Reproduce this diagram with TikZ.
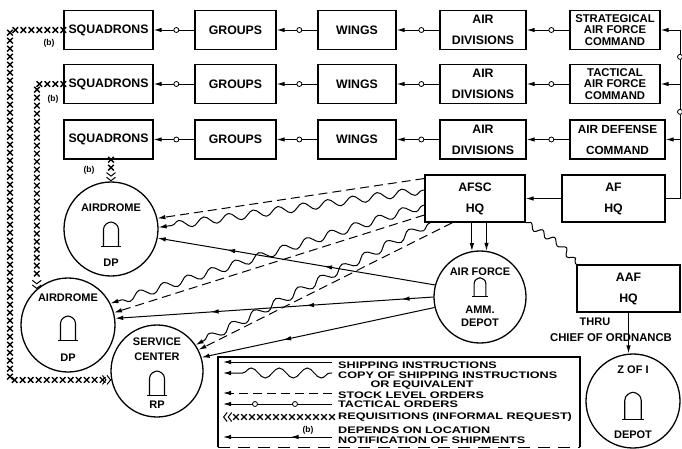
\documentclass[tikz,border=0pt]{standalone}
\usepackage{fontspec}
\setmainfont{Liberation Sans}
\newfontfamily\legfont[FakeStretch=1.33]{Liberation Sans}
\usepackage{tikz}
\usetikzlibrary{positioning,calc,arrows.meta,decorations.markings,decorations.pathmorphing}

\tikzset{
  unitbox/.style={draw, line width=1.3pt, minimum height=39pt, inner sep=0pt, align=center, font=\fontsize{12.3}{21}\selectfont\bfseries},
  cmdbox/.style={unitbox, font=\fontsize{11.3}{11.2}\selectfont\bfseries},
  station/.style={draw, circle, line width=1.3pt, minimum size=94pt, inner sep=0pt},
  stxt/.style={inner sep=0pt, font=\fontsize{11}{11}\selectfont\bfseries},
  legtxt/.style={inner sep=0pt, anchor=west, font=\legfont\fontsize{9.5}{9.5}\selectfont\bfseries},
  btxt/.style={inner sep=0pt, font=\fontsize{8.5}{9}\selectfont\bfseries},
  shiptip/.tip={Latex[length=8pt,width=4.5pt]},
  reqtip/.tip={Straight Barb[length=3.5pt,width=9pt,line width=1pt] Straight Barb[length=3.5pt,width=9pt,line width=1pt]},
  ship/.style={line width=1pt, -{shiptip}},
  ringat/.style={postaction={decorate, decoration={markings, mark=at position #1 with {\draw[line width=0.8pt, fill=white] (0,0) circle (2.5pt);}}}},
  midarrow/.style={postaction={decorate, decoration={markings, mark=at position #1 with {\arrow{shiptip}}}}},
  tacline/.style={ship, ringat=18pt},
  stock/.style={ship, dash pattern=on 9pt off 5pt},
  copy/.style={ship, decorate, decoration={snake, amplitude=4pt, segment length=25pt, pre length=2pt, post length=8pt}},
  req/.style={decorate, decoration={markings,
      mark=between positions 0 and -8pt step 8pt with {\draw[line width=1.3pt] (-2.8pt,-2.8pt) -- (2.8pt,2.8pt) (-2.8pt,2.8pt) -- (2.8pt,-2.8pt);},
      mark=at position 1 with {\arrow[line width=1pt]{reqtip}}}},
  bldg/.pic={
    \draw[line width=1.1pt] (-7.5,12) -- (-7.5,-5) .. controls (-7.5,-10) and (-3,-12) .. (0,-12.5) .. controls (3,-12) and (7.5,-10) .. (7.5,-5) -- (7.5,12);
    \draw[line width=1.1pt] (-10,12) -- (10,12);
  }
}

\begin{document}
\begin{tikzpicture}[x=1pt, y=-1pt]
  \useasboundingbox (0,0) rectangle (682,448);

  % command chain
  \foreach \r/\y in {1/30,2/84,3/139.5} {
    \node[unitbox, minimum width=89pt] (sq\r) at (108.5,\y) {SQUADRONS};
    \node[unitbox, minimum width=81pt] (gr\r) at (235.5,\y) {GROUPS};
    \node[unitbox, minimum width=78pt] (wi\r) at (357,\y) {WINGS};
    \node[unitbox, minimum width=86pt] (dv\r) at (483,\y) {AIR\\DIVISIONS};
    \draw[tacline] (gr\r.west) -- (sq\r.east);
    \draw[tacline] (wi\r.west) -- (gr\r.east);
    \draw[tacline] (dv\r.west) -- (wi\r.east);
  }
  \node[cmdbox, minimum width=90pt] (sacmd) at (615,30) {STRATEGICAL\\AIR FORCE\\COMMAND};
  \node[cmdbox, minimum width=90pt] (tacmd) at (615,84) {TACTICAL\\AIR FORCE\\COMMAND};
  \node[unitbox, minimum width=95pt, font=\fontsize{11.8}{21}\selectfont\bfseries] (adcmd) at (617.5,139.5) {AIR DEFENSE\\COMMAND};
  \foreach \c/\r in {sacmd/1,tacmd/2,adcmd/3}
    \draw[tacline] (\c.west) -- (dv\r.east);

  % headquarters
  \node[unitbox, minimum width=100pt, minimum height=47pt] (afsc) at (475,198.5) {AFSC\\HQ};
  \node[unitbox, minimum width=103pt, minimum height=47pt] (afhq) at (613.5,198.5) {AF\\HQ};
  \node[unitbox, minimum width=103pt, minimum height=47pt] (aafhq) at (628.5,288.5) {AAF\\HQ};
  \coordinate (bus) at (680,198.5);
  \draw[line width=1pt, ringat=101pt, ringat=156pt] (afhq.east) -- (bus) -- (bus |- sacmd.east);
  \foreach \c in {sacmd,tacmd,adcmd}
    \draw[ship] (bus |- \c.east) -- (\c.east);
  \draw[ship] (afhq.west) -- (afsc.east);

  % stations
  \node[station] (ad1) at (111,229) {};
  \node[station] (ad2) at (68,325) {};
  \node[station, minimum size=92pt] (sc) at (157,371) {};
  \node[station, minimum size=92pt] (afd) at (480,297) {};
  \node[station] (zoi) at (633,401) {};

  \node[stxt] (ad1a) at ([yshift=21pt]ad1.center) {AIRDROME};
  \node[stxt] (ad1b) at ([yshift=-34pt]ad1.center) {DP};
  \pic at ([yshift=-5.5pt]ad1.center) {bldg};
  \node[stxt] (ad2a) at ([yshift=27pt]ad2.center) {AIRDROME};
  \node[stxt] (ad2b) at ([yshift=-33pt]ad2.center) {DP};
  \pic at ([yshift=-3.5pt]ad2.center) {bldg};
  \node[stxt] (sca) at ([yshift=29pt]sc.center) {SERVICE};
  \node[stxt] (scb) at ([yshift=14pt]sc.center) {CENTER};
  \node[stxt] (scc) at ([yshift=-34pt]sc.center) {RP};
  \pic at ([yshift=-12.5pt]sc.center) {bldg};
  \node[stxt] (afda) at ([yshift=25pt]afd.center) {AIR FORCE};
  \node[stxt] (afdb) at ([yshift=-13pt]afd.center) {AMM.};
  \node[stxt] (afdc) at ([yshift=-26pt]afd.center) {DEPOT};
  \pic[scale=0.78] at ([yshift=9.5pt]afd.center) {bldg};
  \node[stxt] (zoia) at ([yshift=31pt]zoi.center) {Z OF I};
  \node[stxt] (zoib) at ([yshift=-34pt]zoi.center) {DEPOT};
  \pic[scale=1.1] at ([yshift=-5pt]zoi.center) {bldg};

  % requisitions
  \coordinate (xa) at (10,30);
  \coordinate (xb) at (10,380);
  \coordinate (xc) at (37,84);
  \draw[req] (sq1.west) -- (xa) -- (xb) -- (sc.191);
  \draw[req] (sq2.west) -- (xc) -- (ad2.131);
  \draw[req] (ad1.north |- sq3.south) -- (ad1.north);
  \node[btxt] (b1) at (49,43) {(b)};
  \node[btxt] (b2) at (53,99) {(b)};
  \node[btxt] (b3) at (89,170) {(b)};

  % shipping
  \draw[stock] ([yshift=20pt]afsc.west) -- (ad1.13);
  \draw[copy] ([yshift=8.5pt]afsc.west) -- (ad1.2);
  \draw[copy] ([yshift=-6.5pt]afsc.west) -- (ad2.27);
  \draw[stock] ([yshift=-16.5pt]afsc.west) -- (ad2.15);
  \draw[copy] ([xshift=6pt]afsc.south west) -- (sc.34);
  \draw[stock] ([xshift=28pt]afsc.south west) -- (sc.27);
  \draw[ship, midarrow=0.4, midarrow=0.75] (afd.165) -- (ad1.-11);
  \draw[ship, midarrow=0.1, midarrow=0.4, midarrow=0.7] (afd.180) -- (ad2.8);
  \draw[ship, midarrow=0.65] (afd.193) -- (sc.17);
  \draw[ship] (afsc.south -| afd.100) -- (afd.100);
  \draw[ship] (afsc.south -| afd.82) -- (afd.82);
  \draw[line width=1pt, decorate, decoration={snake, amplitude=3pt, segment length=14pt}] (afsc.south east) -- (558,243) -- (aafhq.north west);
  \draw[ship] (aafhq.south) -- (aafhq.south |- zoi.north);
  \node[stxt] (thru) at (595,322) {THRU};
  \node[stxt, font=\fontsize{11.3}{11}\selectfont\bfseries] (chief) at (611,338) {CHIEF OF ORDNANCB};

  % legend
  \draw[line width=1.2pt] (218,447) -- (218,357) -- (580,357) -- (580,447);
  \draw[line width=0.7pt, dash pattern=on 12pt off 8pt] (218,447) -- (580,447);
  \foreach \k/\y in {ship/362,copy/373,stock/393,tac/404,req/417,note/437} {
    \coordinate (\k R) at (332,\y);
    \coordinate (\k L) at (223,\y);
  }
  \draw[ship] (shipR) -- (shipL);
  \draw[copy, decoration={amplitude=5pt, segment length=28pt}] (copyR) -- (copyL);
  \draw[stock] (stockR) -- (stockL);
  \draw[ship, ringat=37pt, ringat=77pt] (tacR) -- (tacL);
  \draw[req] (reqR) -- (reqL);
  \draw[ship, midarrow=0.38] (noteR) -- (noteL);
  \node[legtxt] (l1) at (338,365) {SHIPPING INSTRUCTIONS};
  \node[legtxt] (l2) at (338,375) {COPY OF SHIPPING INSTRUCTIONS};
  \node[legtxt, anchor=center] (l3) at (422,385) {OR EQUIVALENT};
  \node[legtxt] (l4) at (338,395) {STOCK LEVEL ORDERS};
  \node[legtxt] (l5) at (338,404.5) {TACTICAL ORDERS};
  \node[legtxt] (l6) at (338,417) {REQUISITIONS (INFORMAL REQUEST)};
  \node[legtxt] (l7) at (338,430) {DEPENDS ON LOCATION};
  \node[legtxt] (l8) at (338,440) {NOTIFICATION OF SHIPMENTS};
  \node[btxt] (lb) at (308,430) {(b)};
\end{tikzpicture}
\end{document}
